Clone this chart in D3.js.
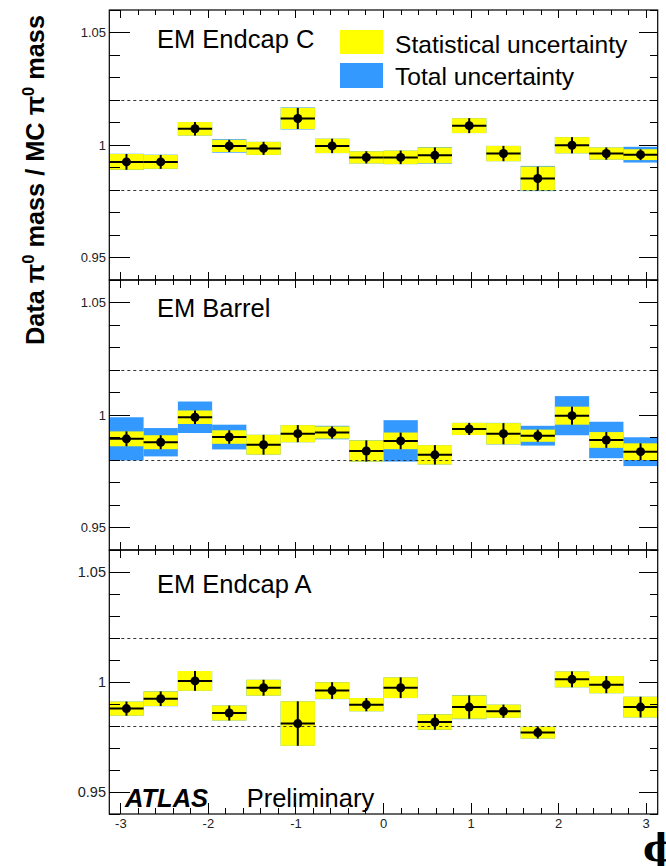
<!DOCTYPE html>
<html lang="en">
<head>
<meta charset="utf-8">
<title>pi0 mass ratio vs phi</title>
<script src="https://d3js.org/d3.v7.min.js"></script>
<style>
  body { margin: 0; background: #fff; }
  svg text { font-family: "Liberation Sans", Arial, Helvetica, sans-serif; }
</style>
</head>
<body>
<svg width="666" height="866"></svg>
<script>
// phi bin centres (16 bins over the phi range)
const phiCenters = [-2.936, -2.545, -2.153, -1.762, -1.370, -0.979, -0.587, -0.196,
                     0.196,  0.587,  0.979,  1.370,  1.762,  2.153,  2.545,  2.936];
const binHalf = 0.1957;

// EM Endcap C
const endcapCVal  = [0.9925, 0.9925, 1.0072, 0.9996, 0.9985, 1.0118, 0.9996, 0.9945,
                     0.9945, 0.9954, 1.0086, 0.9962, 0.9851, 0.9999, 0.9962, 0.9957];
const endcapCStat = [0.0035, 0.0031, 0.0030, 0.0027, 0.0029, 0.0047, 0.0032, 0.0027,
                     0.0030, 0.0035, 0.0033, 0.0034, 0.0053, 0.0036, 0.0027, 0.0024];
const endcapCTot  = [0.0036, 0.0032, 0.0030, 0.0030, 0.0029, 0.0049, 0.0032, 0.0027,
                     0.0030, 0.0037, 0.0033, 0.0034, 0.0056, 0.0036, 0.0027, 0.0035];

// EM Barrel
const barrelVal  = [0.9894, 0.9879, 0.9990, 0.9902, 0.9868, 0.9917, 0.9922, 0.9840,
                    0.9885, 0.9823, 0.9938, 0.9917, 0.9908, 0.9997, 0.9889, 0.9837];
const barrelStat = [0.0033, 0.0031, 0.0030, 0.0030, 0.0044, 0.0038, 0.0027, 0.0047,
                    0.0037, 0.0043, 0.0027, 0.0047, 0.0027, 0.0040, 0.0035, 0.0037];
const barrelTot  = [0.0096, 0.0063, 0.0070, 0.0055, 0.0044, 0.0038, 0.0030, 0.0048,
                    0.0092, 0.0043, 0.0027, 0.0048, 0.0044, 0.0087, 0.0081, 0.0064];

// EM Endcap A
const endcapAVal  = [0.9879, 0.9924, 1.0005, 0.9859, 0.9974, 0.9811, 0.9961, 0.9897,
                     0.9974, 0.9818, 0.9886, 0.9867, 0.9770, 1.0012, 0.9988, 0.9886];
const endcapAStat = [0.0032, 0.0033, 0.0045, 0.0034, 0.0036, 0.0101, 0.0038, 0.0030,
                     0.0047, 0.0035, 0.0053, 0.0030, 0.0027, 0.0036, 0.0039, 0.0047];
const endcapATot  = [0.0032, 0.0034, 0.0045, 0.0034, 0.0036, 0.0101, 0.0039, 0.0030,
                     0.0047, 0.0036, 0.0055, 0.0030, 0.0027, 0.0036, 0.0039, 0.0047];

const panelNames = ["EM Endcap C", "EM Barrel", "EM Endcap A"];
const yMajorTicks = [0.95, 1, 1.05];
const xMajorTicks = [-3, -2, -1, 0, 1, 2, 3];
const refLines = [0.98, 1.02];

const legendLabels = ["Statistical uncertainty", "Total uncertainty"];
const color = { stat: "#ffff00", tot: "#3399ff", line: "#000", dash: "#333", label: "#222" };

const svg = d3.select("svg");

const x = d3.scaleLinear().domain([-3.132, 3.132]).range([109.3, 657.7]);

const panels = [
  { name: panelNames[0], val: endcapCVal, stat: endcapCStat, tot: endcapCTot, top: 10,  bottom: 280, fs: 13 },
  { name: panelNames[1], val: barrelVal,  stat: barrelStat,  tot: barrelTot,  top: 280, bottom: 550, fs: 13 },
  { name: panelNames[2], val: endcapAVal, stat: endcapAStat, tot: endcapATot, top: 550, bottom: 814, fs: 14.5 }
];

const xMinor = d3.range(-30, 31, 2).map(d => d / 10).filter(d => xMajorTicks.indexOf(d) < 0);
const yMinor = d3.range(94, 107, 1).map(d => d / 100);

panels.forEach(function(p, pi) {
  const y = d3.scaleLinear().domain([0.94, 1.06]).range([p.bottom, p.top]);
  const g = svg.append("g");
  const bins = p.val.map((v, i) => ({ c: phiCenters[i], v: v, s: p.stat[i], t: p.tot[i] }));

  // total uncertainty boxes
  g.selectAll("rect.tot").data(bins).join("rect")
    .attr("x", d => x(d.c - binHalf)).attr("width", d => x(d.c + binHalf) - x(d.c - binHalf))
    .attr("y", d => y(d.v + d.t)).attr("height", d => y(d.v - d.t) - y(d.v + d.t))
    .attr("fill", color.tot);
  // stat uncertainty boxes
  g.selectAll("rect.stat").data(bins).join("rect")
    .attr("x", d => x(d.c - binHalf)).attr("width", d => x(d.c + binHalf) - x(d.c - binHalf))
    .attr("y", d => y(d.v + d.s)).attr("height", d => y(d.v - d.s) - y(d.v + d.s))
    .attr("fill", color.stat);

  // dashed reference lines at 0.98 / 1.02
  g.selectAll("line.ref").data(refLines).join("line")
    .attr("x1", x.range()[0]).attr("x2", x.range()[1])
    .attr("y1", d => Math.round(y(d)) + 0.5).attr("y2", d => Math.round(y(d)) + 0.5)
    .attr("stroke", color.dash).attr("stroke-width", 1).attr("stroke-dasharray", "3,3");

  // data points with error bars
  const pts = g.selectAll("g.pt").data(bins).join("g");
  pts.append("line")
    .attr("x1", d => x(d.c - binHalf)).attr("x2", d => x(d.c + binHalf))
    .attr("y1", d => y(d.v)).attr("y2", d => y(d.v))
    .attr("stroke", color.line).attr("stroke-width", 2);
  pts.append("line")
    .attr("x1", d => x(d.c)).attr("x2", d => x(d.c))
    .attr("y1", d => y(d.v + d.s)).attr("y2", d => y(d.v - d.s))
    .attr("stroke", color.line).attr("stroke-width", 2);
  pts.append("circle")
    .attr("cx", d => x(d.c)).attr("cy", d => y(d.v)).attr("r", 4.5)
    .attr("fill", color.line);

  // frame
  g.append("rect")
    .attr("x", x.range()[0]).attr("y", p.top)
    .attr("width", x.range()[1] - x.range()[0]).attr("height", p.bottom - p.top)
    .attr("fill", "none").attr("stroke", color.line).attr("stroke-width", 1.2);

  // y ticks, left and right
  const yt = g.append("g").attr("stroke", color.line).attr("stroke-width", 1).attr("shape-rendering", "crispEdges");
  yMinor.forEach(function(v) {
    const major = yMajorTicks.some(m => Math.abs(m - v) < 1e-6);
    const yy = y(v);
    yt.append("line").attr("x1", x.range()[0]).attr("x2", x.range()[0] + (major ? 21 : 11)).attr("y1", yy).attr("y2", yy);
    yt.append("line").attr("x1", x.range()[1]).attr("x2", x.range()[1] - (major ? 19 : 8)).attr("y1", yy).attr("y2", yy);
  });

  // x ticks, top and bottom
  const xt = g.append("g").attr("stroke", color.line).attr("stroke-width", 1).attr("shape-rendering", "crispEdges");
  xMajorTicks.forEach(function(v) {
    xt.append("line").attr("x1", x(v)).attr("x2", x(v)).attr("y1", p.top).attr("y2", p.top + 8);
    xt.append("line").attr("x1", x(v)).attr("x2", x(v)).attr("y1", p.bottom).attr("y2", p.bottom - (pi === 2 ? 11 : 8));
  });
  xMinor.forEach(function(v) {
    xt.append("line").attr("x1", x(v)).attr("x2", x(v)).attr("y1", p.top).attr("y2", p.top + 5);
    xt.append("line").attr("x1", x(v)).attr("x2", x(v)).attr("y1", p.bottom).attr("y2", p.bottom - (pi === 2 ? 6 : 5));
  });

  // y tick labels
  g.selectAll("text.yl").data(yMajorTicks).join("text")
    .attr("x", 106).attr("y", d => y(d) + p.fs * 0.36)
    .attr("text-anchor", "end").attr("font-size", p.fs).attr("fill", color.label)
    .text(d => d3.format("~g")(d));

  // panel name
  g.append("text").attr("x", 157).attr("y", p.top + (pi === 0 ? 37.7 : (pi === 1 ? 36.7 : 43.3)))
    .attr("font-size", 25.5).attr("fill", "#000").text(p.name);
});

// x tick labels under the bottom panel
svg.append("g").selectAll("text").data(xMajorTicks).join("text")
  .attr("x", d => x(d)).attr("y", 828)
  .attr("text-anchor", "middle").attr("font-size", 13).attr("fill", color.label)
  .text(d => d < 0 ? "-" + Math.abs(d) : d);

// x axis title
svg.append("text").attr("x", 643).attr("y", 861)
  .attr("font-size", 38).attr("font-weight", "bold")
  .style("font-family", "'DejaVu Serif', 'Liberation Serif', serif")
  .text("\u03d5");

// y axis title
const yt = svg.append("text")
  .attr("transform", "translate(44,180) rotate(-90)")
  .attr("text-anchor", "middle").attr("font-size", 26).attr("font-weight", "bold")
  .attr("textLength", 330).attr("lengthAdjust", "spacingAndGlyphs");
yt.append("tspan").text("Data \u03c0");
yt.append("tspan").attr("font-size", 17).attr("dy", -10).text("0");
yt.append("tspan").attr("dy", 10).text(" mass / MC \u03c0");
yt.append("tspan").attr("font-size", 17).attr("dy", -10).text("0");
yt.append("tspan").attr("dy", 10).text(" mass");

// legend
const leg = svg.append("g");
[color.stat, color.tot].forEach(function(c, i) {
  leg.append("rect").attr("x", 340).attr("y", i === 0 ? 30 : 63).attr("width", 43).attr("height", i === 0 ? 24 : 25).attr("fill", c);
  leg.append("text").attr("x", 395).attr("y", i === 0 ? 52.7 : 85).attr("font-size", 24.6).attr("fill", "#000").text(legendLabels[i]);
});

// ATLAS Preliminary
svg.append("text").attr("x", 125).attr("y", 806.7).attr("font-size", 25.5)
  .attr("font-weight", "bold").attr("font-style", "italic").text("ATLAS");
svg.append("text").attr("x", 246.7).attr("y", 806.7).attr("font-size", 25.5).text("Preliminary");
</script>
</body>
</html>
